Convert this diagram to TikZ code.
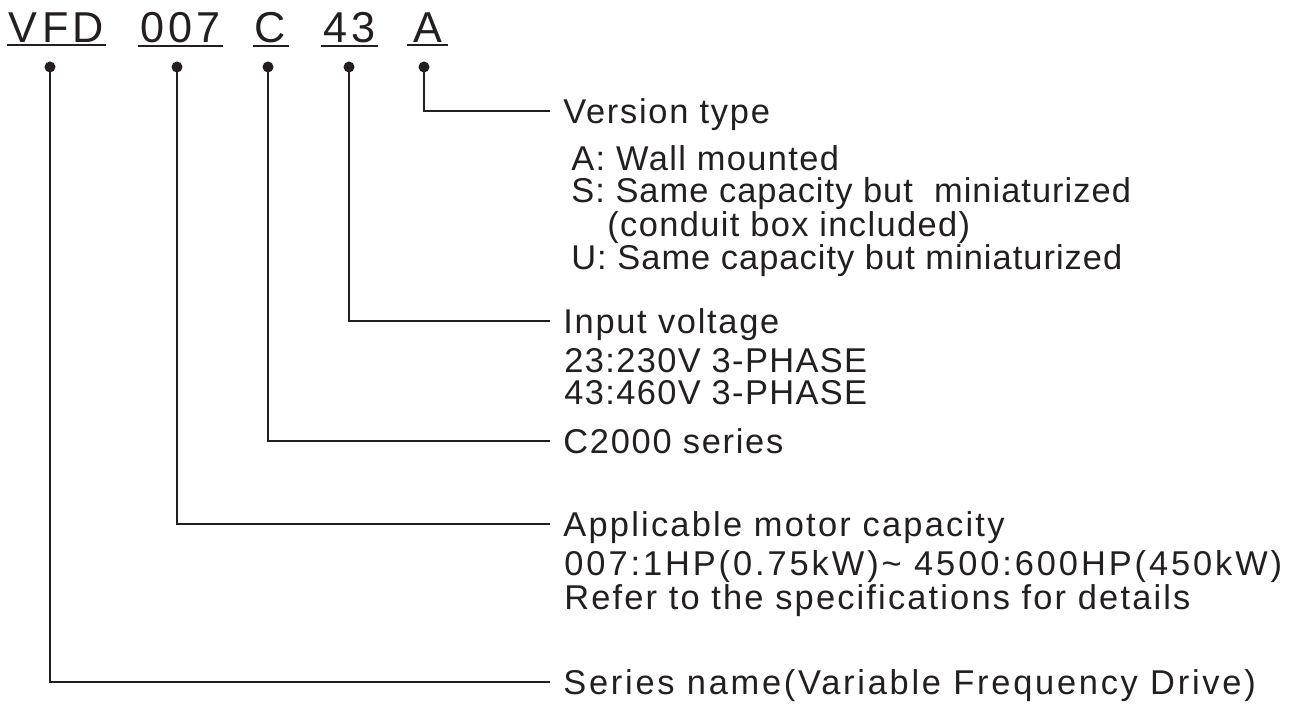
\documentclass[tikz,border=0pt]{standalone}
\usepackage{fontspec}
\setmainfont{Liberation Sans}[LetterSpace=4]
\newfontfamily\titlefont{Liberation Sans}[LetterSpace=10]
\definecolor{ink}{HTML}{231F20}
\tikzset{
  title/.style={font=\titlefont\fontsize{21.6}{24}\selectfont, text=ink, anchor=base, inner xsep=1pt, inner ysep=0pt},
  uline/.style={draw=ink, line width=1pt},
  dot/.style={circle, fill=ink, inner sep=0pt, minimum size=5.5pt},
  conn/.style={draw=ink, line width=0.65pt},
  head/.style={font=\fontsize{17.2}{20}\selectfont, text=ink, anchor=base west, inner xsep=6.5pt, inner ysep=0pt},
  item/.style={font=\fontsize{17.2}{20}\selectfont, text=ink, anchor=base west, inner sep=0pt},
  track/.style={font=\fontsize{17.2}{20}\selectfont\addfontfeature{LetterSpace=#1}},
}
\begin{document}
\begin{tikzpicture}[x=0.5pt,y=-0.5pt]
\useasboundingbox (0,0) rectangle (1299,704);
\fill[white] (0,0) rectangle (1299,704);
% title code
\node[title] (tVFD) at (56.5,43) {VFD};
\node[title] (t007) at (180.5,43) {007};
\node[title] (tC) at (270.5,43) {C};
\node[title] (t43) at (349.5,43) {43};
\node[title, inner xsep=3pt] (tA) at (427.5,43) {A};
\foreach \t in {tVFD,t007,tC,t43,tA}
  \draw[uline] ([yshift=-1pt]\t.south west) -- ([yshift=-1pt]\t.south east);
% dots
\node[dot] (dVFD) at (50,67) {};
\node[dot] (d007) at (177,67) {};
\node[dot] (dC) at (268,67) {};
\node[dot] (d43) at (349,67) {};
\node[dot] (dA) at (424,67) {};
% headings and descriptions
\node[head, track=5] (hA) at (550,123.5) {Version type};
\node[item] (iA1) at (571,170.5) {A: Wall mounted};
\node[item, track=3] (iA2) at (571,202.5) {S: Same capacity but\ \ miniaturized};
\node[item] (iA3) at (607,236.5) {(conduit box included)};
\node[item, track=3] (iA4) at (571,269.5) {U: Same capacity but miniaturized};
\node[head, track=5] (h43) at (550,333.5) {Input voltage};
\node[item, track=4] (i431) at (564,372.5) {23:230V 3-PHASE};
\node[item, track=4] (i432) at (564,404.5) {43:460V 3-PHASE};
\node[head, track=5] (hC) at (550,453.5) {C2000 series};
\node[head, track=6.5] (h007) at (550,536.5) {Applicable motor capacity};
\node[item, track=8.5] (i0071) at (564,575.5) {007:1HP(0.75kW)\textasciitilde{} 4500:600HP(450kW)};
\node[item, track=6.3] (i0072) at (564,609.5) {Refer to the specifications for details};
\node[head, track=8] (hVFD) at (550,694.5) {Series name(Variable Frequency Drive)};
% connectors
\foreach \a/\b in {dA/hA,d43/h43,dC/hC,d007/h007,dVFD/hVFD}
  \draw[conn] (\a.center) |- ([yshift=6.2pt]\b.base west);
\end{tikzpicture}
\end{document}
